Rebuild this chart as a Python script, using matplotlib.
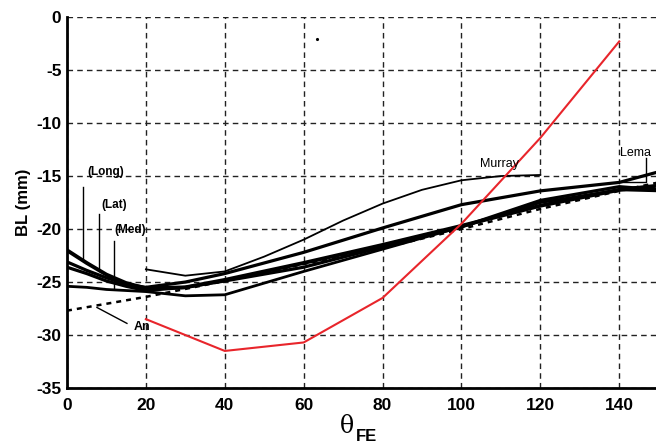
import matplotlib.pyplot as plt
import numpy as np

# data (theta_FE in deg, BL in mm)
x_main = [0, 5, 10, 15, 20, 30, 40, 60, 80, 100, 120, 140, 150]
bl_long = [-22.0, -23.2, -24.3, -25.1, -25.6, -25.5, -24.8, -23.2, -21.5, -19.7, -17.8, -16.3, -15.9]
bl_lat = [-23.1, -23.9, -24.6, -25.2, -25.5, -25.0, -24.2, -22.2, -19.9, -17.7, -16.4, -15.6, -14.6]
bl_med = [-23.6, -24.2, -24.9, -25.4, -25.8, -25.5, -24.9, -23.6, -21.7, -19.8, -17.3, -16.0, -16.3]
bl_flat = [-25.4, -25.5, -25.7, -25.8, -25.9, -26.3, -26.2, -24.0, -21.9, -19.8, -17.5, -16.3, -16.4]

x_murray = [20, 30, 40, 50, 60, 70, 80, 90, 100, 110, 120]
bl_murray = [-23.8, -24.4, -24.0, -22.6, -21.0, -19.2, -17.6, -16.3, -15.4, -15.0, -14.9]

x_an = [0, 20, 40, 60, 80, 100, 120, 140, 150]
bl_an = [-27.7, -26.4, -24.9, -23.3, -21.8, -20.0, -18.1, -16.4, -15.6]

x_red = [20, 40, 60, 80, 100, 120, 140]
bl_red = [-28.5, -31.5, -30.7, -26.5, -19.5, -11.4, -2.3]

x_ticks = [0, 20, 40, 60, 80, 100, 120, 140]
y_ticks = [0, -5, -10, -15, -20, -25, -30, -35]

plt.rcParams['font.family'] = ['Liberation Sans', 'DejaVu Sans']
plt.rcParams['axes.unicode_minus'] = False

fig = plt.figure(figsize=(6.56, 4.45), dpi=100)
ax = fig.add_axes([0.1021, 0.128, 0.902, 0.8337])
ax.set_xlim(0, 150)
ax.set_ylim(-35, 0)

# grid
ax.set_xticks(x_ticks)
ax.set_yticks(y_ticks)
ax.grid(True, color='#222222', linestyle=(0, (4, 3)), linewidth=1.0)
for s in ['top', 'right']:
    ax.spines[s].set_visible(False)
for s in ['left', 'bottom']:
    ax.spines[s].set_linewidth(2.0)
ax.tick_params(direction='in', length=0, labelsize=12.5)
ax.tick_params(axis='x', pad=7)
ax.tick_params(axis='y', pad=4)
for lab in ax.get_xticklabels() + ax.get_yticklabels():
    lab.set_fontweight('bold')

# curves
ax.plot(x_main, bl_long, color='black', lw=2.8)
ax.plot(x_main, bl_lat, color='black', lw=2.3)
ax.plot(x_main, bl_med, color='black', lw=2.3)
ax.plot(x_main, bl_flat, color='black', lw=2.0)
ax.plot(x_murray, bl_murray, color='black', lw=1.3)
ax.plot(x_an, bl_an, color='black', lw=1.8, linestyle=(0, (2, 2)))
ax.plot(x_red, bl_red, color='#e8252b', lw=1.5)
ax.plot([63.3], [-2.1], marker='.', color='black', markersize=2.5)

# labels and leaders
ax.plot([4.0, 4.0], [-16.0, -22.9], color='black', lw=1.0)
ax.text(5.2, -15.2, '(Long)', fontsize=8.5, fontweight='bold', va='bottom')
ax.plot([8.1, 8.1], [-18.6, -24.0], color='black', lw=1.0)
ax.text(8.8, -18.3, '(Lat)', fontsize=8.5, fontweight='bold', va='bottom')
ax.plot([11.9, 11.9], [-21.1, -25.7], color='black', lw=1.0)
ax.text(11.9, -20.7, '(Med)', fontsize=8.5, fontweight='bold', va='bottom')
ax.plot([7.6, 15.2], [-27.4, -28.9], color='black', lw=1.0)
ax.text(17.0, -29.2, 'An', fontsize=9, fontweight='bold', va='center')
ax.text(109.6, -13.9, 'Murray', fontsize=9, ha='center', va='center')
ax.plot([146.8, 146.8, 140.5], [-13.3, -15.6, -15.6], color='black', lw=1.0)
ax.text(140.3, -12.8, 'Lema', fontsize=9, va='center')

ax.set_ylabel('BL (mm)', fontsize=12, fontweight='bold', labelpad=4)

# axis label theta_FE
fig.text(0.529, 0.042, '\u03b8', family='DejaVu Serif', fontsize=17, ha='center', va='center')
fig.text(0.543, 0.020, 'FE', fontsize=12, fontweight='bold', ha='left', va='center')

plt.savefig('out.png', dpi=100)
